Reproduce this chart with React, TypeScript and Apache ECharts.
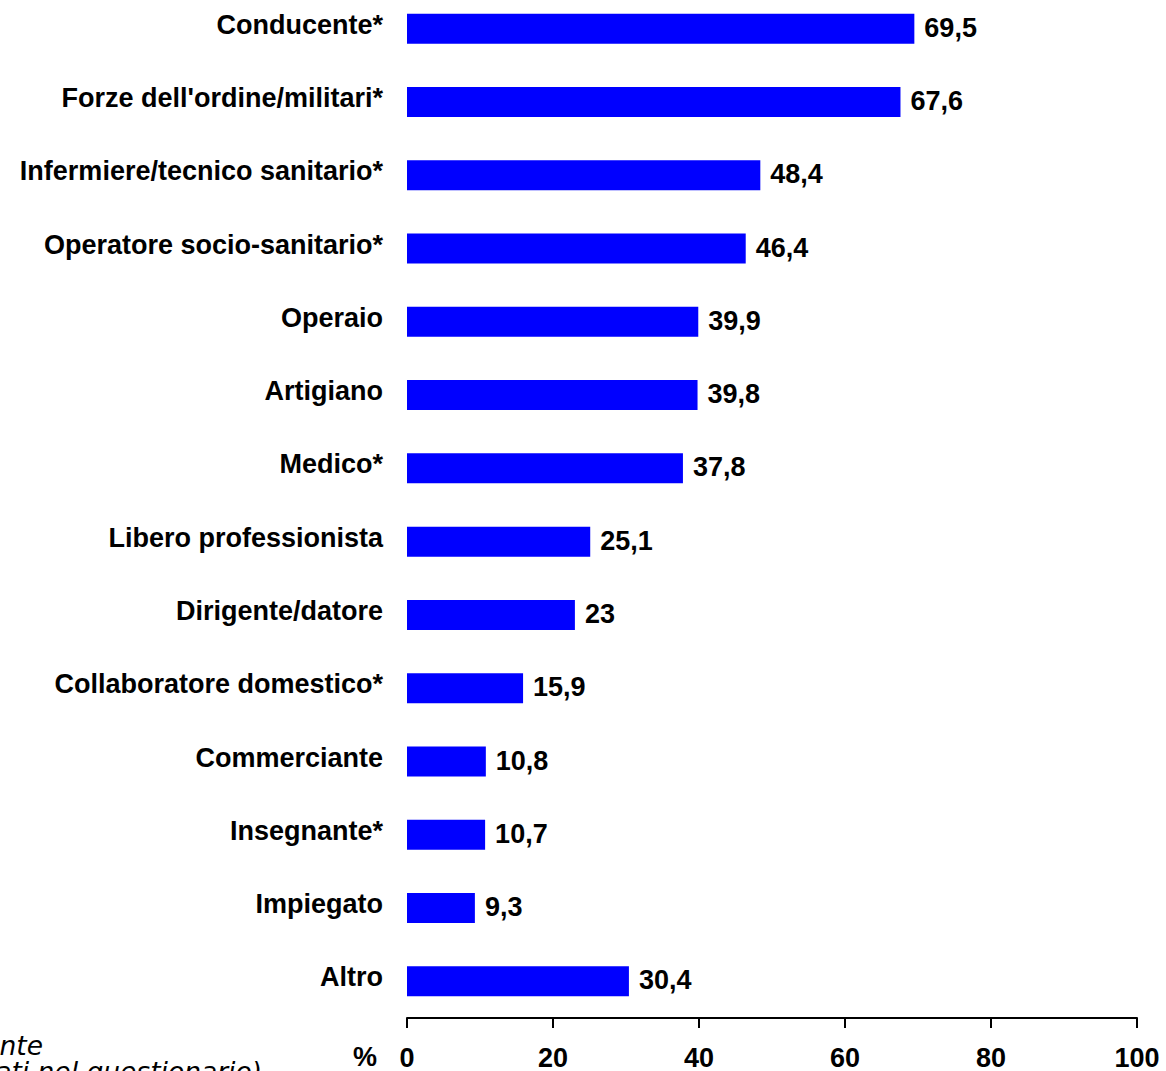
import React, { useEffect, useRef } from "react";
import * as echarts from "echarts";

const categories = [
  "Conducente*",
  "Forze dell'ordine/militari*",
  "Infermiere/tecnico sanitario*",
  "Operatore socio-sanitario*",
  "Operaio",
  "Artigiano",
  "Medico*",
  "Libero professionista",
  "Dirigente/datore",
  "Collaboratore domestico*",
  "Commerciante",
  "Insegnante*",
  "Impiegato",
  "Altro",
];
const values = [69.5, 67.6, 48.4, 46.4, 39.9, 39.8, 37.8, 25.1, 23, 15.9, 10.8, 10.7, 9.3, 30.4];
const xTicks = [0, 20, 40, 60, 80, 100];
const footnoteLines = ["*Professione a contatto con l'utente", "(dati riportati nel questionario)"];

const SHIFT = 8; // chart div starts 8px above the page top

export default function App() {
  const ref = useRef<HTMLDivElement>(null);
  useEffect(() => {
    document.body.style.margin = "0";
    const chart = echarts.init(ref.current!, null, { renderer: "svg" });
    const font = "'Liberation Sans', Arial, sans-serif";
    const foot = `italic 26.5px 'DejaVu Sans', Verdana, sans-serif`;
    chart.setOption({
      animation: false,
      backgroundColor: "#ffffff",
      grid: { left: 407, right: 29, top: 0, height: 1026.5, containLabel: false },
      xAxis: {
        type: "value",
        min: xTicks[0],
        max: xTicks[xTicks.length - 1],
        interval: 20,
        axisLine: { show: true, lineStyle: { color: "#000", width: 2 } },
        axisTick: { show: true, length: 10, lineStyle: { color: "#000", width: 2 } },
        axisLabel: {
          color: "#000",
          fontFamily: font,
          fontWeight: "bold",
          fontSize: 27,
          margin: 26,
          formatter: (v: number) => String(v),
        },
        splitLine: { show: false },
      },
      yAxis: {
        type: "category",
        inverse: true,
        data: categories,
        axisLine: { show: false },
        axisTick: { show: false },
        axisLabel: {
          margin: 24,
          formatter: (v: string) => `{a|${v}}`,
          rich: {
            a: {
              color: "#000",
              fontFamily: font,
              fontWeight: "bold",
              fontSize: 27,
              padding: [0, 0, 8, 0],
            },
          },
        },
      },
      series: [
        {
          type: "bar",
          data: values,
          barWidth: 30,
          itemStyle: { color: "#0000ff" },
          label: {
            show: true,
            position: "right",
            distance: 10,
            offset: [0, -1],
            color: "#000",
            fontFamily: font,
            fontWeight: "bold",
            fontSize: 27,
            formatter: (p: any) => String(p.value).replace(".", ","),
          },
        },
      ],
      graphic: [
        {
          type: "text",
          x: 377,
          y: 1057 + SHIFT,
          style: {
            text: "%",
            fill: "#000",
            font: `bold 27px ${font}`,
            textAlign: "right",
            textVerticalAlign: "middle",
          },
        },
        {
          type: "text",
          x: 43,
          y: 1045 + SHIFT,
          style: {
            text: footnoteLines[0],
            fill: "#000",
            font: foot,
            textAlign: "right",
            textVerticalAlign: "middle",
          },
        },
        {
          type: "text",
          x: 262,
          y: 1071 + SHIFT,
          style: {
            text: footnoteLines[1],
            fill: "#000",
            font: foot,
            textAlign: "right",
            textVerticalAlign: "middle",
          },
        },
      ],
    });
    return () => chart.dispose();
  }, []);
  return (
    <div
      ref={ref}
      style={{ position: "absolute", left: 0, top: -SHIFT, width: 1166, height: 1071 + SHIFT }}
    />
  );
}
